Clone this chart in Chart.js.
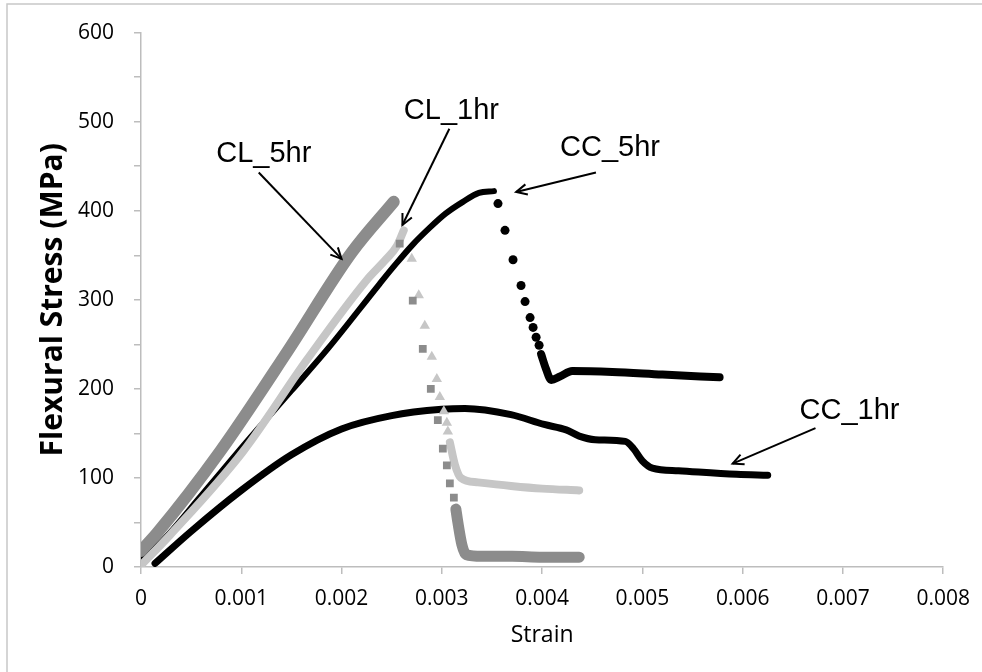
<!DOCTYPE html>
<html>
<head>
<meta charset="utf-8">
<title>Flexural stress vs strain</title>
<script src="https://cdn.jsdelivr.net/npm/chart.js@4.4.1/dist/chart.umd.min.js"></script>
<style>
  html, body { margin: 0; padding: 0; background: #fff; }
  #wrap { position: relative; width: 982px; height: 672px; }
</style>
</head>
<body>
<div id="wrap"><canvas id="chart" width="982" height="672"></canvas></div>
<script>
// Values: [strain, stress MPa]
const cl5Line = [[0, 18], [0.00016, 38], [0.00079, 130], [0.00146, 242], [0.0021, 353], [0.00252, 410]];
const cl5Drop = [[0.00258, 363], [0.00271, 299], [0.00281, 245], [0.00289, 200], [0.00296, 165], [0.00301, 133], [0.00305, 114], [0.00308, 94], [0.00312, 78]];
const cl5Tail = [[0.00314, 65], [0.00316, 50], [0.0032, 25], [0.00324, 14], [0.0034, 12], [0.0037, 12], [0.004, 11], [0.00437, 11]];

const cl1Line = [[0, 2], [0.00029, 36], [0.00102, 130], [0.00165, 232], [0.00225, 322], [0.00244, 345], [0.00255, 360], [0.00262, 378]];
const cl1Drop = [[0.0027, 346], [0.00277, 305], [0.00283, 271], [0.0029, 236], [0.00295, 211], [0.00298, 191], [0.00302, 175], [0.00305, 162], [0.00306, 152]];
const cl1Tail = [[0.00308, 140], [0.00313, 115], [0.00319, 100], [0.00336, 95], [0.00369, 91], [0.004, 88], [0.00437, 86]];

const cc5Line = [[0, 10], [0.0002, 28], [0.0006, 80], [0.00105, 140], [0.0015, 198], [0.00187, 246], [0.00238, 318], [0.00254, 340], [0.00271, 362], [0.00288, 381], [0.00304, 397], [0.00321, 410], [0.00337, 420], [0.00352, 422]];
const cc5Drop = [[0.00356, 408], [0.00363, 378], [0.00371, 345], [0.00379, 316], [0.00383, 298], [0.00388, 280], [0.00391, 269], [0.00394, 258], [0.00397, 249]];
const cc5Tail = [[0.00399, 239], [0.00404, 222], [0.00409, 210], [0.00418, 214], [0.0043, 220], [0.0047, 219], [0.0052, 216], [0.00577, 213]];

const cc1Line = [[0.00014, 4], [0.0005, 40], [0.001, 86], [0.0015, 126], [0.002, 155], [0.0025, 170], [0.003, 177], [0.00323, 178], [0.00369, 171], [0.00402, 160], [0.00424, 154], [0.00437, 147], [0.00453, 143], [0.00483, 141], [0.00491, 133], [0.005, 119], [0.0051, 111], [0.00536, 108], [0.00594, 104], [0.00625, 103]];

const xTicks = [0, 0.001, 0.002, 0.003, 0.004, 0.005, 0.006, 0.007, 0.008];
const yTicks = [0, 100, 200, 300, 400, 500, 600];

// labels and arrows: [name, textX, textBaseline, tailX, tailY, headX, headY]
const notes = [
  ['CL_5hr', 0.001224, 455, 0.001174, 443, 0.0020, 346],
  ['CL_1hr', 0.003095, 503, 0.003075, 492, 0.002607, 384],
  ['CC_5hr', 0.004677, 462, 0.004537, 443, 0.003741, 421],
  ['CC_1hr', 0.007065, 166, 0.006726, 156, 0.0059, 116]
];

const DARK = '#8c8c8c';
const LIGHT = '#c6c6c6';
const BLACK = '#000000';
const AXIS = '#bdbdbd';

const pts = arr => arr.map(p => ({x: p[0], y: p[1]}));

function lineSet(data, color, width) {
  return {
    data: pts(data),
    showLine: true,
    borderColor: color,
    borderWidth: width,
    borderCapStyle: 'round',
    borderJoinStyle: 'round',
    cubicInterpolationMode: 'monotone',
    pointRadius: 0,
    fill: false
  };
}

function markerSet(data, color, style, radius) {
  return {
    data: pts(data),
    showLine: false,
    pointStyle: style,
    pointRadius: radius,
    backgroundColor: color,
    borderColor: color,
    borderWidth: 0
  };
}

// Excel-like annotation text with arrows
const notesPlugin = {
  id: 'notes',
  afterDatasetsDraw(chart) {
    const {ctx, scales: {x, y}} = chart;
    ctx.save();
    ctx.font = '29px "Liberation Sans", Arial, sans-serif';
    ctx.fillStyle = '#000';
    ctx.textAlign = 'center';
    ctx.textBaseline = 'alphabetic';
    ctx.strokeStyle = '#000';
    ctx.lineWidth = 2;
    notes.forEach(n => {
      ctx.fillText(n[0], x.getPixelForValue(n[1]), y.getPixelForValue(n[2]));
      const x1 = x.getPixelForValue(n[3]), y1 = y.getPixelForValue(n[4]);
      const x2 = x.getPixelForValue(n[5]), y2 = y.getPixelForValue(n[6]);
      const a = Math.atan2(y2 - y1, x2 - x1);
      ctx.beginPath();
      ctx.moveTo(x1, y1);
      ctx.lineTo(x2, y2);
      ctx.stroke();
      ctx.beginPath();
      ctx.moveTo(x2 - 12 * Math.cos(a - 0.45), y2 - 12 * Math.sin(a - 0.45));
      ctx.lineTo(x2, y2);
      ctx.lineTo(x2 - 12 * Math.cos(a + 0.45), y2 - 12 * Math.sin(a + 0.45));
      ctx.stroke();
    });
    ctx.restore();
  },
  beforeDraw(chart) {
    const ctx = chart.ctx;
    ctx.save();
    ctx.fillStyle = '#fff';
    ctx.fillRect(0, 0, chart.width, chart.height);
    ctx.strokeStyle = '#c8c8c8';
    ctx.lineWidth = 1.5;
    ctx.beginPath();
    ctx.moveTo(7, chart.height);
    ctx.lineTo(7, 4);
    ctx.lineTo(chart.width, 4);
    ctx.stroke();
    ctx.restore();
  }
};

const tickFont = {family: '"Open Sans", sans-serif', size: 21};

new Chart(document.getElementById('chart'), {
  type: 'scatter',
  data: {
    datasets: [
      lineSet(cl5Line, DARK, 12),
      markerSet(cl5Drop, DARK, 'rect', 5.5),
      lineSet(cl5Tail, DARK, 11),
      lineSet(cl1Line, LIGHT, 8),
      markerSet(cl1Drop, LIGHT, 'triangle', 6),
      lineSet(cl1Tail, LIGHT, 8),
      lineSet(cc5Line, BLACK, 6),
      markerSet(cc5Drop, BLACK, 'circle', 4.5),
      lineSet(cc5Tail, BLACK, 8),
      lineSet(cc1Line, BLACK, 7)
    ]
  },
  options: {
    responsive: false,
    animation: false,
    layout: {padding: {left: 0, right: 37, top: 28, bottom: 0}},
    plugins: {legend: {display: false}, tooltip: {enabled: false}},
    scales: {
      x: {
        type: 'linear',
        min: 0,
        max: 0.008,
        afterBuildTicks: s => { s.ticks = xTicks.map(v => ({value: v})); },
        afterFit: s => { s.height = 672 - 567; },
        ticks: {
          font: tickFont,
          color: '#000',
          padding: 12,
          maxRotation: 0,
          callback: v => String(v)
        },
        grid: {drawOnChartArea: false, drawTicks: true, tickLength: 7, color: AXIS, lineWidth: 1.5},
        border: {color: AXIS, width: 1.5},
        title: {
          display: true,
          text: 'Strain',
          color: '#000',
          font: {family: '"Open Sans", sans-serif', size: 23},
          padding: {top: 0, bottom: 23}
        }
      },
      y: {
        type: 'linear',
        min: 0,
        max: 600,
        afterFit: s => { s.width = 141; },
        ticks: {
          stepSize: 50,
          font: tickFont,
          color: '#000',
          padding: 20,
          callback: v => (yTicks.includes(v) ? String(v) : '')
        },
        grid: {drawOnChartArea: false, drawTicks: true, tickLength: 7, color: AXIS, lineWidth: 1.5},
        border: {color: AXIS, width: 1.5},
        title: {
          display: true,
          text: 'Flexural Stress (MPa)',
          color: '#000',
          font: {family: '"Open Sans", sans-serif', size: 30, weight: 'bold'},
          padding: {top: 35, bottom: 0}
        }
      }
    }
  },
  plugins: [notesPlugin]
});
</script>
</body>
</html>
